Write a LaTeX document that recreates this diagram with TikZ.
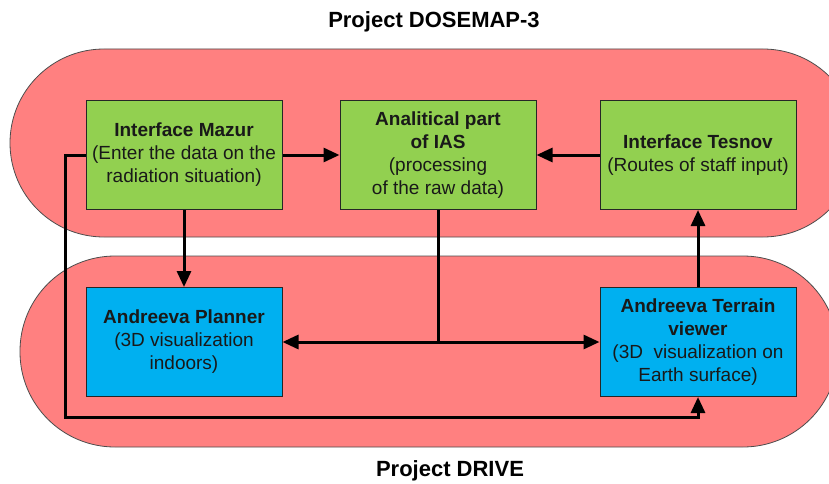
\documentclass[tikz,border=0pt]{standalone}
\usepackage{fontspec}
\setmainfont{Liberation Sans}
\usetikzlibrary{arrows.meta, positioning}

\definecolor{projpink}{RGB}{255,128,128}
\definecolor{ifgreen}{RGB}{146,208,80}
\definecolor{viewblue}{RGB}{0,176,240}

\begin{document}
\begin{tikzpicture}[x=1pt, y=-1pt, on grid,
    box/.style={draw=black!85, line width=1pt, minimum width=196pt, minimum height=109pt,
                align=center, inner sep=2pt, text=black!90,
                font=\fontsize{19}{23}\selectfont},
    project/.style={draw=black!70, line width=0.8pt, fill=projpink},
    link/.style={line width=3pt, -{Triangle[length=16pt,width=14pt]}},
    title/.style={font=\fontsize{22}{26}\selectfont\bfseries}]
            \clip (0,0) rectangle (829,484);
            % the two projects
            \draw [project, rounded corners=94pt] (10,49) rectangle (857,237);
            \draw [project, rounded corners=95pt] (20,256) rectangle (838,447);
            \node [title] (dosemap) at (434,22) {Project DOSEMAP-3};
            \node [title] (drive) at (450,471) {Project DRIVE};

            % modules
            \node [box, fill=ifgreen] (mazur) at (184,155) {\textbf{Interface Mazur}\\(Enter the data on the\\radiation situation)};
            \node [box, fill=ifgreen] (ias) at (438,155) {\textbf{Analitical part}\\\textbf{of IAS}\\(processing\\of the raw data)};
            \node [box, fill=ifgreen] (tesnov) at (698,155) {\textbf{Interface Tesnov}\\(Routes of staff input)};
            \node [box, fill=viewblue] [below=187pt of mazur] (planner) {\textbf{Andreeva Planner}\\(3D visualization\\indoors)};
            \node [box, fill=viewblue] [below=187pt of tesnov] (terrain) {\textbf{Andreeva Terrain}\\\textbf{viewer}\\(3D\ \ visualization on\\Earth surface)};
            \coordinate (loop) at (65,417);

            \path [link]
            	(mazur) edge (ias)
            	(tesnov) edge (ias)
            	(mazur.south) edge (planner.north)
            	(terrain.north) edge (tesnov.south);
            \draw [line width=3pt] (ias.south) -- (ias.south |- planner.east);
            \draw [link, {Triangle[length=16pt,width=14pt]}-{Triangle[length=16pt,width=14pt]}] (planner.east) -- (terrain.west);
            \draw [link] (mazur.west) -| (loop) -| (terrain.south);
            \end{tikzpicture}
\end{document}
